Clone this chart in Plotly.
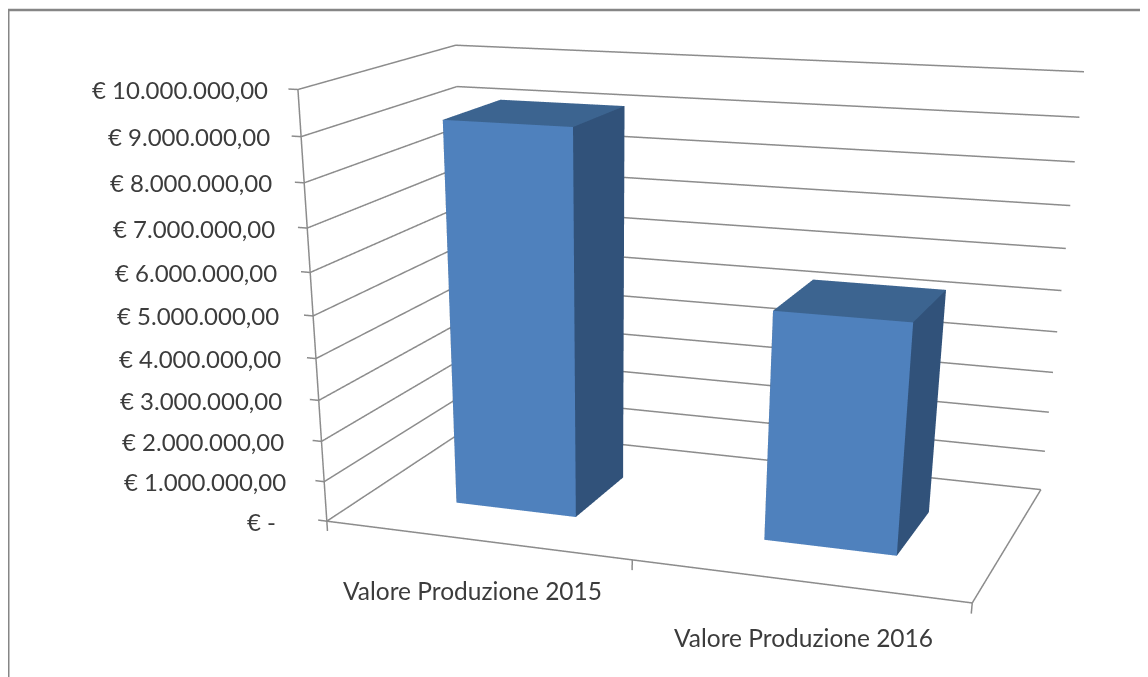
import plotly.graph_objects as go

categories = ["Valore Produzione 2015", "Valore Produzione 2016"]
values = [9140000, 5420000]
value_ticks = [0, 1000000, 2000000, 3000000, 4000000, 5000000, 6000000, 7000000, 8000000, 9000000, 10000000]
value_labels = ["€ -\u00a0\u00a0", "€ 1.000.000,00", "€ 2.000.000,00", "€ 3.000.000,00", "€ 4.000.000,00",
                "€ 5.000.000,00", "€ 6.000.000,00", "€ 7.000.000,00", "€ 8.000.000,00", "€ 9.000.000,00", "€ 10.000.000,00"]

# Tall page so the fixed 45 degree WebGL camera gets the long lens of the original; only the top 677 px are seen.
FIG_W, FIG_H = 1148, 1700
BAR_CENTERS = [0.503, 1.513]
BAR_HALF = 0.202
DEPTH0, DEPTH1 = 0.283, 0.679
X_MAX, Z_MAX = 2.0, 1e7

# Camera found by fitting the reference's perspective (unit cube space)
EYE = (1.541, -4.696, 1.139)
CENTER = (-0.034, -0.671, -1.170)
UP = (0.006, 0, 1)
ASPECT = (1.593, 0.850, 1.0)
RX, RY, RZ = (-0.03, 1.01), (-0.01, 1.01), (-0.03, 1.01)

aspect = [a * (r[1] - r[0]) for a, r in zip(ASPECT, (RX, RY, RZ))]
shift = [a * (0.5 - (r[0] + r[1]) / 2) for a, r in zip(ASPECT, (RX, RY, RZ))]
eye = [e + s for e, s in zip(EYE, shift)]
center = [c + s for c, s in zip(CENTER, shift)]

fig = go.Figure()
gx, gy, gz = [], [], []


def seg(a, b):
    gx.extend([a[0], b[0], None])
    gy.extend([a[1], b[1], None])
    gz.extend([a[2], b[2], None])


for v in value_ticks:
    seg((0, 0, v), (0, 1, v))
    seg((0, 1, v), (X_MAX, 1, v))
    seg((-0.03, 0, v), (0, 0, v))
seg((0, 0, 0), (0, 0, Z_MAX))
seg((0, 0, 0), (X_MAX, 0, 0))
seg((X_MAX, 0, 0), (X_MAX, 1, 0))
for c in [0, 1, 2]:
    seg((c, 0, 0), (c, 0, -2.5e5))
fig.add_trace(go.Scatter3d(x=gx, y=gy, z=gz, mode="lines", line=dict(color="#8c8c8c", width=3),
                           hoverinfo="skip", showlegend=False))

FRONT, TOP, SIDE = "#4f81bd", "#3c6490", "#31527a"
for c0, v in zip(BAR_CENTERS, values):
    x0, x1 = c0 - BAR_HALF, c0 + BAR_HALF
    vx = [x0, x1, x1, x0, x0, x1, x1, x0]
    vy = [DEPTH0, DEPTH0, DEPTH1, DEPTH1] * 2
    vz = [0] * 4 + [v] * 4
    fig.add_trace(go.Mesh3d(
        x=vx, y=vy, z=vz,
        i=[0, 0, 4, 4, 1, 1, 3, 3, 0, 0, 3, 3],
        j=[1, 5, 5, 6, 2, 6, 2, 6, 1, 2, 0, 4],
        k=[5, 4, 6, 7, 6, 5, 6, 7, 2, 3, 4, 7],
        facecolor=[FRONT, FRONT, TOP, TOP] + [SIDE] * 8,
        flatshading=True,
        lighting=dict(ambient=1, diffuse=0, specular=0, fresnel=0, roughness=1),
        hoverinfo="skip", showscale=False))

TICK_FONT = dict(family="Lato", size=24, color="#3c3c3c")
CAT_FONT = dict(family="Lato", size=24.5, color="#3c3c3c")
anns = []
for v, t in zip(value_ticks, value_labels):
    anns.append(dict(x=0, y=0, z=v, text=t, showarrow=False, xanchor="right", yanchor="middle",
                     xshift=-28 - 9 * (1 - v / Z_MAX), font=TICK_FONT))
for i, t in enumerate(categories):
    anns.append(dict(x=i + 0.5, y=0, z=0, text=t, showarrow=False, xanchor="center", yanchor="middle",
                     xshift=[-3, 6][i], yshift=[-50, -57][i], font=CAT_FONT))

ax = dict(visible=False, showgrid=False, zeroline=False, showticklabels=False, showspikes=False,
          showbackground=False, title="")
fig.update_layout(
    width=FIG_W, height=FIG_H, autosize=False, margin=dict(l=0, r=0, t=0, b=0),
    paper_bgcolor="white", showlegend=False,
    scene=dict(
        domain=dict(x=[0, 1], y=[0, 1]), aspectmode="manual",
        aspectratio=dict(x=aspect[0], y=aspect[1], z=aspect[2]),
        camera=dict(eye=dict(x=eye[0], y=eye[1], z=eye[2]),
                    center=dict(x=center[0], y=center[1], z=center[2]),
                    up=dict(x=UP[0], y=UP[1], z=UP[2]),
                    projection=dict(type="perspective")),
        xaxis=dict(ax, range=[RX[0] * X_MAX, RX[1] * X_MAX]),
        yaxis=dict(ax, range=list(RY)),
        zaxis=dict(ax, range=[RZ[0] * Z_MAX, RZ[1] * Z_MAX]),
        annotations=anns, dragmode=False),
    shapes=[
        dict(type="line", xref="paper", yref="paper", x0=0, x1=1, y0=1 - 2 / FIG_H, y1=1 - 2 / FIG_H,
             line=dict(color="#868686", width=2.5)),
        dict(type="line", xref="paper", yref="paper", x0=0, x1=0, y0=1 - 2 / FIG_H, y1=1 - 677 / FIG_H,
             line=dict(color="#868686", width=3)),
    ])
fig.write_html("out.html")
